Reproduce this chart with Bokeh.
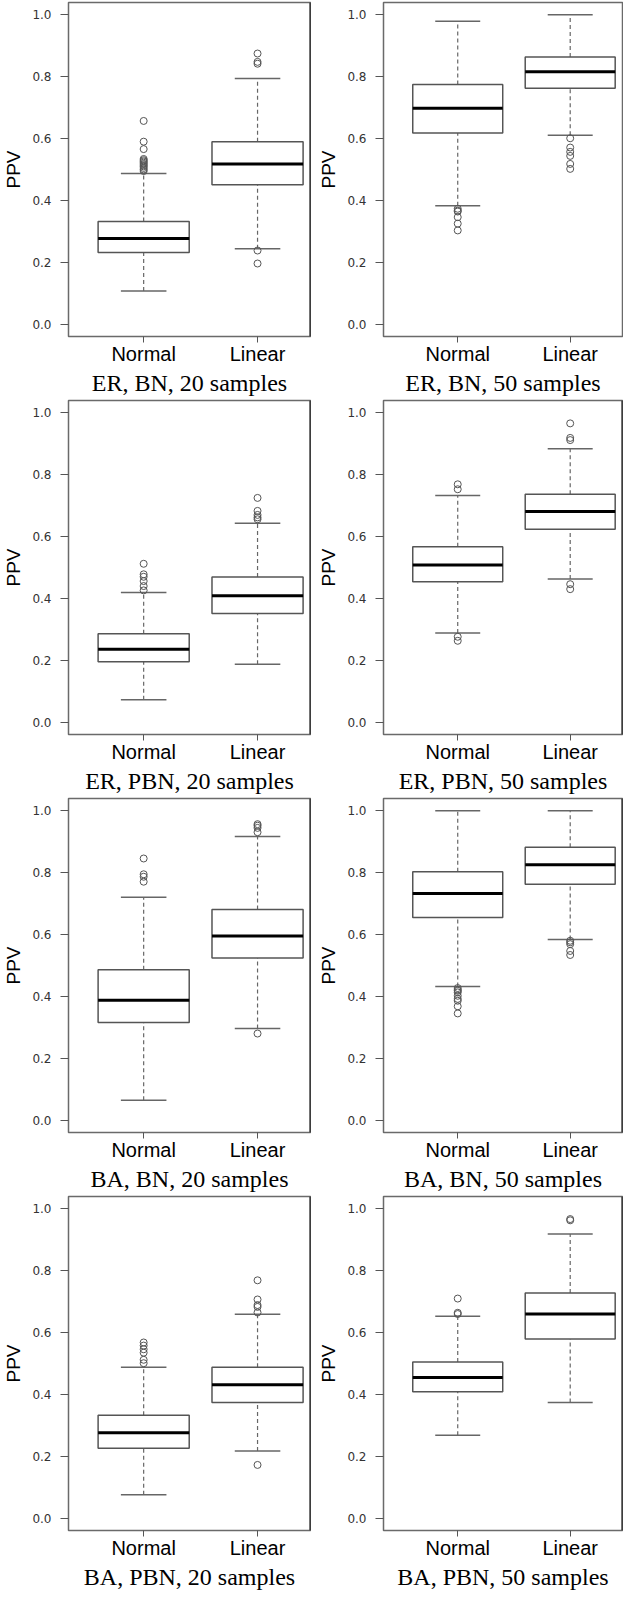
from bokeh.plotting import figure
from bokeh.layouts import column, row
from bokeh.models import Range1d, FixedTicker, PrintfTickFormatter, ColumnDataSource, Span
from bokeh.embed import file_html
from bokeh.resources import INLINE

# ---------------- data ----------------
categories = ["Normal", "Linear"]
captions = [
    "ER, BN, 20 samples", "ER, BN, 50 samples",
    "ER, PBN, 20 samples", "ER, PBN, 50 samples",
    "BA, BN, 20 samples", "BA, BN, 50 samples",
    "BA, PBN, 20 samples", "BA, PBN, 50 samples",
]
y_ticks = [0.0, 0.2, 0.4, 0.6, 0.8, 1.0]

# per panel: [Normal, Linear]
whisker_low = [[0.107, 0.244], [0.383, 0.611], [0.072, 0.187], [0.288, 0.463],
               [0.064, 0.296], [0.432, 0.584], [0.076, 0.217], [0.268, 0.374]]
quartile_1 = [[0.232, 0.451], [0.618, 0.763], [0.195, 0.351], [0.454, 0.624],
              [0.316, 0.524], [0.655, 0.763], [0.226, 0.374], [0.409, 0.579]]
medians = [[0.277, 0.518], [0.698, 0.816], [0.236, 0.409], [0.508, 0.681],
           [0.388, 0.595], [0.733, 0.826], [0.276, 0.431], [0.455, 0.660]]
quartile_3 = [[0.332, 0.590], [0.775, 0.864], [0.286, 0.469], [0.567, 0.737],
              [0.486, 0.681], [0.803, 0.882], [0.333, 0.488], [0.505, 0.728]]
whisker_high = [[0.487, 0.794], [0.979, 1.000], [0.419, 0.643], [0.733, 0.884],
                [0.721, 0.917], [1.000, 1.000], [0.488, 0.659], [0.653, 0.919]]

outliers_normal = [
    [0.657, 0.590, 0.566, 0.534, 0.530, 0.526, 0.522, 0.518, 0.514, 0.510, 0.505, 0.500, 0.495],
    [0.373, 0.367, 0.364, 0.346, 0.325, 0.303],
    [0.512, 0.478, 0.470, 0.456, 0.440, 0.426],
    [0.769, 0.753, 0.276, 0.263],
    [0.846, 0.795, 0.787, 0.771],
    [0.427, 0.421, 0.418, 0.413, 0.402, 0.392, 0.386, 0.368, 0.345],
    [0.568, 0.558, 0.546, 0.535, 0.512, 0.501],
    [0.710, 0.664, 0.660],
]
outliers_linear = [
    [0.875, 0.848, 0.842, 0.238, 0.196],
    [0.601, 0.571, 0.557, 0.544, 0.518, 0.502],
    [0.725, 0.683, 0.670, 0.662, 0.656],
    [0.966, 0.919, 0.912, 0.446, 0.430],
    [0.957, 0.952, 0.945, 0.931, 0.280],
    [0.580, 0.575, 0.569, 0.547, 0.534],
    [0.769, 0.707, 0.689, 0.683, 0.665, 0.172],
    [0.967, 0.963],
]

# ---------------- style ----------------
BOX_W = 0.8
CAP_W = 0.4
ROW_H = 398
X_START, X_END = 0.34, 2.465
BOX_LINE = "#555555"
WHISK_LINE = "#666666"


def make_panel(i, left_col):
    xs = [k + 1 for k in range(len(categories))]
    if left_col:
        width, border_left = 311, 63
    else:
        width, border_left = 312, 72
    p = figure(width=width, height=ROW_H,
               x_range=Range1d(X_START, X_END), y_range=Range1d(-0.04, 1.04),
               output_backend="svg", toolbar_location=None,
               min_border_left=border_left, min_border_right=1,
               min_border_top=2, min_border_bottom=58)
    p.xgrid.visible = False
    p.ygrid.visible = False
    p.background_fill_color = "white"
    p.border_fill_color = "white"
    p.outline_line_color = "#6a6a6a"
    p.outline_line_width = 1.5

    src = ColumnDataSource(dict(
        x=xs,
        lo=whisker_low[i], q1=quartile_1[i], med=medians[i],
        q3=quartile_3[i], hi=whisker_high[i],
        box_l=[x - BOX_W / 2 for x in xs], box_r=[x + BOX_W / 2 for x in xs],
        cap_l=[x - CAP_W / 2 for x in xs], cap_r=[x + CAP_W / 2 for x in xs],
    ))

    # whiskers (dashed)
    p.segment(x0="x", x1="x", y0="q3", y1="hi", source=src,
              line_color=WHISK_LINE, line_width=1.2, line_dash="4 3")
    p.segment(x0="x", x1="x", y0="lo", y1="q1", source=src,
              line_color=WHISK_LINE, line_width=1.2, line_dash="4 3")
    # staples
    p.segment(x0="cap_l", x1="cap_r", y0="hi", y1="hi", source=src,
              line_color=WHISK_LINE, line_width=1.5)
    p.segment(x0="cap_l", x1="cap_r", y0="lo", y1="lo", source=src,
              line_color=WHISK_LINE, line_width=1.5)
    # boxes
    p.vbar(x="x", width=BOX_W, bottom="q1", top="q3", source=src,
           fill_color="white", line_color=BOX_LINE, line_width=1.5)
    # medians
    p.segment(x0="box_l", x1="box_r", y0="med", y1="med", source=src,
              line_color="black", line_width=3)

    # outliers
    ox, oy = [], []
    for v in outliers_normal[i]:
        ox.append(xs[0]); oy.append(v)
    for v in outliers_linear[i]:
        ox.append(xs[1]); oy.append(v)
    p.scatter(x=ox, y=oy, marker="circle", size=7, fill_color=None,
              line_color="#555555", line_width=1)

    # darker right frame edge, as in the scanned panels
    if i != 1:
        p.add_layout(Span(location=X_END, dimension="height",
                          line_color="#111111", line_width=2))

    # x axis
    xa = p.xaxis[0]
    xa.ticker = FixedTicker(ticks=xs)
    xa.major_label_overrides = {x: c for x, c in zip(xs, categories)}
    xa.axis_line_color = None
    xa.major_tick_line_color = "#555555"
    xa.major_tick_out = 6
    xa.major_tick_in = 0
    xa.minor_tick_line_color = None
    xa.major_label_standoff = 0
    xa.major_label_text_font = "Liberation Sans"
    xa.major_label_text_font_size = "20px"
    xa.major_label_text_color = "black"
    xa.axis_label = captions[i]
    xa.axis_label_text_font = "Liberation Serif"
    xa.axis_label_text_font_size = "24px"
    xa.axis_label_text_font_style = "normal"
    xa.axis_label_text_color = "black"
    xa.axis_label_standoff = 2

    # y axis
    ya = p.yaxis[0]
    ya.ticker = FixedTicker(ticks=y_ticks)
    ya.formatter = PrintfTickFormatter(format="%.1f")
    ya.axis_line_color = None
    ya.major_tick_line_color = "#555555"
    ya.major_tick_out = 8
    ya.major_tick_in = 0
    ya.minor_tick_line_color = None
    ya.major_label_standoff = 9
    ya.major_label_text_font = "DejaVu Sans"
    ya.major_label_text_font_size = "12px"
    ya.major_label_text_color = "#333333"
    ya.axis_label = "PPV"
    ya.axis_label_text_font = "Liberation Sans"
    ya.axis_label_text_font_size = "19px"
    ya.axis_label_text_font_style = "normal"
    ya.axis_label_text_color = "black"
    ya.axis_label_standoff = 5
    return p


rows = []
for r in range(4):
    rows.append(row(make_panel(2 * r, True), make_panel(2 * r + 1, False)))
layout = column(*rows)

open("out.html", "w").write(file_html(layout, INLINE))
